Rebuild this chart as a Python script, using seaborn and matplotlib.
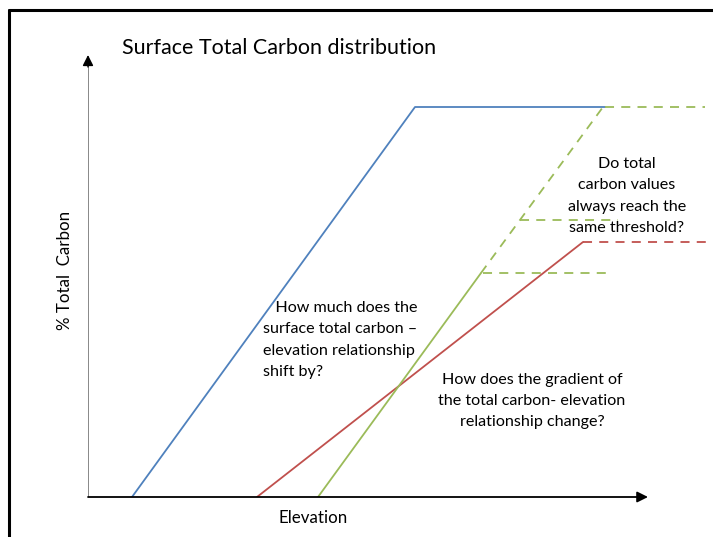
import matplotlib.pyplot as plt
import seaborn as sns
from matplotlib.lines import Line2D

sns.set_theme(style='white')
plt.rcParams['font.family'] = ['Lato', 'DejaVu Sans']

# conceptual curves (elevation, % total carbon) in arbitrary units
blue_elev = [44, 327, 517]
blue_carbon = [0, 390, 390]

red_elev = [169, 495]
red_carbon = [0, 255]
red_cap_elev = [495, 625]
red_cap_carbon = [255, 255]

green_elev = [230, 393]
green_carbon = [0, 224]
green_ext_elev = [393, 515]
green_ext_carbon = [224, 390]

# dashed thresholds for the green curve
thr_start = [395, 432, 517]
thr_end = [524, 530, 617]
thr_level = [224, 277, 390]

BLUE = '#4F81BD'
RED = '#C0504D'
GREEN = '#9BBB59'

fig = plt.figure(figsize=(7.13, 5.37), dpi=100)
# axes spans px 88..713 horizontally and 10..497 vertically
ax = fig.add_axes([88 / 713, 40 / 537, 625 / 713, 487 / 537])
ax.set_xlim(0, 625)
ax.set_ylim(0, 487)
ax.axis('off')

sns.lineplot(x=blue_elev, y=blue_carbon, sort=False, color=BLUE, lw=1.3, ax=ax)
sns.lineplot(x=red_elev, y=red_carbon, sort=False, color=RED, lw=1.3, ax=ax)
sns.lineplot(x=red_cap_elev, y=red_cap_carbon, sort=False, color=RED, lw=1.3, ax=ax,
             linestyle=(0, (5, 4)))
sns.lineplot(x=green_elev, y=green_carbon, sort=False, color=GREEN, lw=1.3, ax=ax)
sns.lineplot(x=green_ext_elev, y=green_ext_carbon, sort=False, color=GREEN, lw=1.3, ax=ax,
             linestyle=(0, (5, 4)))
for x0, x1, lv in zip(thr_start, thr_end, thr_level):
    sns.lineplot(x=[x0, x1], y=[lv, lv], sort=False, color=GREEN, lw=1.3, ax=ax,
                 linestyle=(0, (5, 4)))

# axes: grey vertical line with black head, black horizontal arrow
ax.plot([0, 0], [0, 432], color='#7f7f7f', lw=1.3)
ax.annotate('', xy=(0, 442), xytext=(0, 430),
            arrowprops=dict(arrowstyle='-|>', color='black', lw=1.0,
                            mutation_scale=16, shrinkA=0, shrinkB=0))
ax.annotate('', xy=(560, 0), xytext=(0, 0),
            arrowprops=dict(arrowstyle='-|>', color='black', lw=1.3,
                            mutation_scale=16, shrinkA=0, shrinkB=0))

# slide frame
fig.add_artist(Line2D([9 / 713, 9 / 713], [0, 1 - 10 / 537], color='black', lw=2.2))
fig.add_artist(Line2D([9 / 713, 1], [1 - 10 / 537, 1 - 10 / 537], color='black', lw=2.2))

fs = 11.6
fig.text(122 / 713, 1 - 48 / 537, 'Surface Total Carbon distribution', fontsize=15.5,
         ha='left', va='center', color='black')
fig.text(65 / 713, 1 - 270 / 537, '% Total  Carbon', fontsize=12.2, rotation=90,
         ha='center', va='center', color='black')
fig.text(313 / 713, 1 - 518 / 537, 'Elevation', fontsize=12.2,
         ha='center', va='center', color='black')

fig.text(263 / 713, 1 - 340 / 537,
         '   How much does the\nsurface total carbon \u2013\nelevation relationship\nshift by?',
         fontsize=fs, ha='left', va='center', linespacing=1.65, color='black')
fig.text(532 / 713, 1 - 401 / 537,
         'How does the gradient of\nthe total carbon- elevation\nrelationship change?',
         fontsize=fs, ha='center', va='center', multialignment='center',
         linespacing=1.65, color='black')
fig.text(627 / 713, 1 - 196 / 537,
         'Do total\ncarbon values\nalways reach the\nsame threshold?',
         fontsize=fs, ha='center', va='center', multialignment='center',
         linespacing=1.65, color='black')

fig.savefig('out.png', dpi=100)
